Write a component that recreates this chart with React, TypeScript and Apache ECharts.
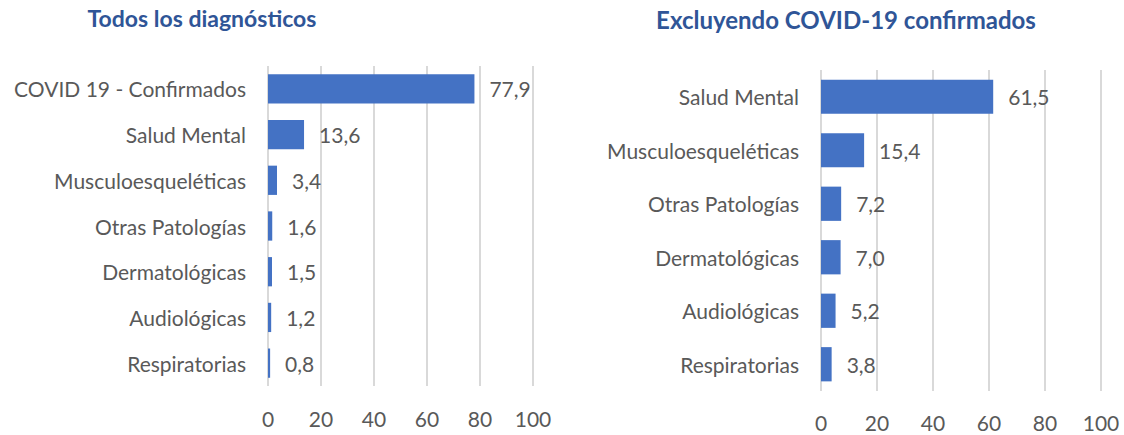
import React, { useEffect, useRef } from "react";
import * as echarts from "echarts";

const leftCategories = [
  "COVID 19 - Confirmados",
  "Salud Mental",
  "Musculoesqueléticas",
  "Otras Patologías",
  "Dermatológicas",
  "Audiológicas",
  "Respiratorias",
];
const leftValues = [77.9, 13.6, 3.4, 1.6, 1.5, 1.2, 0.8];

const rightCategories = [
  "Salud Mental",
  "Musculoesqueléticas",
  "Otras Patologías",
  "Dermatológicas",
  "Audiológicas",
  "Respiratorias",
];
const rightValues = [61.5, 15.4, 7.2, 7.0, 5.2, 3.8];

const leftTitle = "Todos los diagnósticos";
const rightTitle = "Excluyendo COVID-19 confirmados";

const FONT = "Lato, 'Open Sans', sans-serif";
const TEXT = "#595959";
const BAR = "#4472C4";
const FS = 21;

export default function App() {
  const ref = useRef<HTMLDivElement>(null);
  useEffect(() => {
    if (!ref.current) return;
    const chart = echarts.init(ref.current, null, { renderer: "svg" });
    const fmt = (p: any) => Number(p.value).toFixed(1).replace(".", ",");
    const xAxisCommon = (idx: number, margin: number) => ({
      type: "value",
      gridIndex: idx,
      min: 0,
      max: 100,
      interval: 20,
      axisLine: { show: false },
      axisTick: { show: false },
      axisLabel: { color: TEXT, fontSize: FS, fontFamily: FONT, margin },
      splitLine: { show: true, lineStyle: { color: "#D9D9D9", width: 2 } },
    });
    const yAxisCommon = (idx: number, cats: string[]) => ({
      type: "category",
      gridIndex: idx,
      data: cats,
      inverse: true,
      axisLine: { show: false },
      axisTick: { show: false },
      axisLabel: { color: TEXT, fontSize: FS, fontFamily: FONT, margin: 22 },
    });
    const seriesCommon = (idx: number, vals: number[]) => ({
      type: "bar",
      xAxisIndex: idx,
      yAxisIndex: idx,
      data: vals,
      barCategoryGap: "36%",
      itemStyle: { color: BAR },
      label: {
        show: true,
        position: "right",
        distance: 15,
        color: TEXT,
        fontSize: FS,
        fontFamily: FONT,
        formatter: fmt,
      },
    });
    chart.setOption({
      animation: false,
      backgroundColor: "#ffffff",
      title: [
        {
          text: leftTitle,
          left: 197,
          top: 1,
          textAlign: "center",
          textStyle: { color: "#2F5597", fontSize: 23, fontWeight: "bold", fontFamily: FONT },
        },
        {
          text: rightTitle,
          left: 841,
          top: 2,
          textAlign: "center",
          textStyle: { color: "#2F5597", fontSize: 24, fontWeight: "bold", fontFamily: FONT },
        },
      ],
      grid: [
        { left: 268, top: 66, width: 265, height: 320 },
        { left: 821, top: 70, width: 280, height: 321 },
      ],
      xAxis: [xAxisCommon(0, 22), xAxisCommon(1, 21)],
      yAxis: [yAxisCommon(0, leftCategories), yAxisCommon(1, rightCategories)],
      series: [seriesCommon(0, leftValues), seriesCommon(1, rightValues)],
    });
    return () => chart.dispose();
  }, []);
  return (
    <div
      ref={ref}
      style={{ position: "fixed", left: 0, top: 0, width: 1124, height: 435 }}
    />
  );
}
